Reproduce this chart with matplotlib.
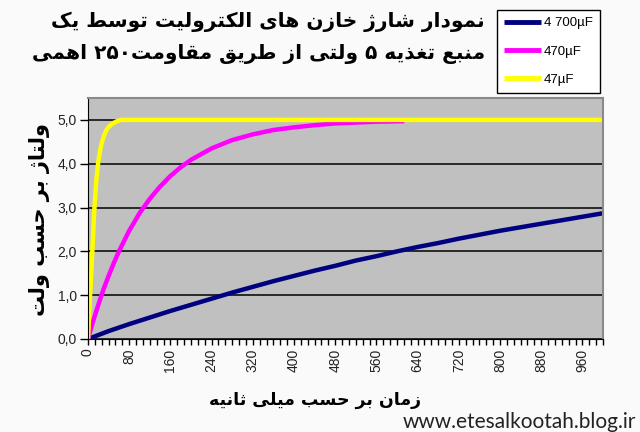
#!/usr/bin/env python3
"""Capacitor charge curves (47 / 470 / 4700 uF through 250 ohm from 5 V)."""
import re

import matplotlib

matplotlib.use("Agg")
import matplotlib.pyplot as plt
import numpy as np
from matplotlib.ticker import FixedLocator, NullFormatter

TITLE_1 = "نمودار شارژ خازن های الکترولیت توسط یک"
TITLE_2 = "منبع تغذیه ۵ ولتی از طریق مقاومت۲۵۰ اهمی"
X_LABEL = "زمان بر حسب میلی ثانیه"
Y_LABEL = "ولتاژ بر حسب ولت"
WATERMARK = "www.etesalkootah.blog.ir"

labels = ["4 700µF", "470µF", "47µF"]
colors = ["#000080", "#FF00FF", "#FFFF00"]

# time (ms) / voltage (V)
t_4700 = [0, 40, 80, 120, 160, 200, 240, 280, 320, 360, 400, 440, 480, 520,
          560, 600, 640, 680, 720, 760, 800, 840, 880, 920, 960, 1000]
v_4700 = [0, 0.18, 0.34, 0.49, 0.64, 0.78, 0.92, 1.06, 1.19, 1.32, 1.44, 1.56,
          1.67, 1.79, 1.89, 2.0, 2.1, 2.19, 2.29, 2.38, 2.47, 2.55, 2.63, 2.71,
          2.79, 2.87]

t_470 = [0, 10, 20, 30, 40, 50, 60, 80, 100, 120, 140, 160, 180, 200, 240,
         280, 320, 360, 400, 440, 480, 520, 560, 610]
v_470 = [0, 0.41, 0.78, 1.13, 1.44, 1.73, 2.0, 2.47, 2.87, 3.2, 3.48, 3.72,
         3.92, 4.09, 4.35, 4.54, 4.67, 4.77, 4.83, 4.88, 4.92, 4.94, 4.96, 4.97]

t_47 = [0, 4, 8, 12, 16, 20, 24, 28, 32, 36, 40, 48, 56, 64, 1000]
v_47 = [0, 1.0, 1.9, 2.9, 3.6, 4.05, 4.33, 4.53, 4.67, 4.77, 4.84, 4.92, 4.97,
        5.0, 5.0]

x_major = list(range(0, 961, 80))
y_major = [0, 1, 2, 3, 4, 5]
y_ticklabels = ["0,0", "1,0", "2,0", "3,0", "4,0", "5,0"]

# --- minimal Persian shaping (matplotlib 3.10 has no complex text layout) ---
# char -> (isolated, final, initial, medial); 2-tuple = joins on the right only
FORMS = {
    "ا": (0xFE8D, 0xFE8E), "د": (0xFEA9, 0xFEAA), "ذ": (0xFEAB, 0xFEAC),
    "ر": (0xFEAD, 0xFEAE), "ز": (0xFEAF, 0xFEB0), "ژ": (0xFB8A, 0xFB8B),
    "و": (0xFEED, 0xFEEE),
    "ب": (0xFE8F, 0xFE90, 0xFE91, 0xFE92), "ت": (0xFE95, 0xFE96, 0xFE97, 0xFE98),
    "ث": (0xFE99, 0xFE9A, 0xFE9B, 0xFE9C), "ح": (0xFEA1, 0xFEA2, 0xFEA3, 0xFEA4),
    "خ": (0xFEA5, 0xFEA6, 0xFEA7, 0xFEA8), "س": (0xFEB1, 0xFEB2, 0xFEB3, 0xFEB4),
    "ش": (0xFEB5, 0xFEB6, 0xFEB7, 0xFEB8), "ط": (0xFEC1, 0xFEC2, 0xFEC3, 0xFEC4),
    "ع": (0xFEC9, 0xFECA, 0xFECB, 0xFECC), "غ": (0xFECD, 0xFECE, 0xFECF, 0xFED0),
    "ق": (0xFED5, 0xFED6, 0xFED7, 0xFED8), "ل": (0xFEDD, 0xFEDE, 0xFEDF, 0xFEE0),
    "م": (0xFEE1, 0xFEE2, 0xFEE3, 0xFEE4), "ن": (0xFEE5, 0xFEE6, 0xFEE7, 0xFEE8),
    "ه": (0xFEE9, 0xFEEA, 0xFEEB, 0xFEEC), "ی": (0xFBFC, 0xFBFD, 0xFBFE, 0xFBFF),
    "ک": (0xFB8E, 0xFB8F, 0xFB90, 0xFB91),
}


def fa(text):
    out = []
    n = len(text)
    for i, ch in enumerate(text):
        f = FORMS.get(ch)
        if f is None:
            out.append(ch)
            continue
        prev = text[i - 1] if i > 0 else ""
        nxt = text[i + 1] if i + 1 < n else ""
        join_prev = prev in FORMS and len(FORMS[prev]) == 4
        join_next = len(f) == 4 and nxt in FORMS
        if join_prev and join_next:
            cp = f[3]
        elif join_prev:
            cp = f[1]
        elif join_next:
            cp = f[2]
        else:
            cp = f[0]
        out.append(chr(cp))
    shaped = "".join(out)
    runs = re.findall(r"[0-9\u06F0-\u06F9]+|[^0-9\u06F0-\u06F9]+", shaped)
    return "".join(r if r[0].isdigit() else r[::-1] for r in reversed(runs))


fig = plt.figure(figsize=(6.4, 4.32), dpi=100, facecolor="#fafafa")
ax = fig.add_axes([88 / 640, 1 - 339 / 432, 515 / 640, 241 / 432])
ax.set_facecolor("#C0C0C0")

series = [(t_4700, v_4700), (t_470, v_470), (t_47, v_47)]
for (t, v), lab, col in zip(series, labels, colors):
    ax.plot(t, v, color=col, linewidth=3.2, label=lab, solid_joinstyle="round")

ax.set_xlim(0, 1000)
ax.set_ylim(0, 5.5)
ax.set_yticks(y_major)
ax.set_yticklabels(y_ticklabels)
ax.set_xticks(x_major)
ax.set_xticklabels([str(v) for v in x_major], rotation=90)
ax.xaxis.set_minor_locator(FixedLocator(np.arange(0, 1000.1, 40 / 3)))
ax.xaxis.set_minor_formatter(NullFormatter())
ax.tick_params(axis="x", which="both", direction="out", length=4, width=1,
               color="black", labelsize=10, labelcolor="#222222", pad=3)
ax.tick_params(axis="y", which="major", direction="out", length=6, width=1,
               color="black", labelsize=10, labelcolor="#222222", pad=2)
for lbl in ax.get_xticklabels() + ax.get_yticklabels():
    lbl.set_fontfamily("Liberation Sans")

ax.yaxis.grid(True, color="black", linewidth=1.1)
ax.set_axisbelow(True)
ax.spines["left"].set_color("black")
ax.spines["bottom"].set_color("black")
for s in ("top", "right"):
    ax.spines[s].set_color("#8a8a8a")
    ax.spines[s].set_linewidth(1.5)

leg = fig.legend(loc="upper left", bbox_to_anchor=(497 / 640, 1 - 10 / 432),
                 prop={"family": "Liberation Sans", "size": 9.5},
                 frameon=True, fancybox=False, edgecolor="black",
                 facecolor="white", framealpha=1, handlelength=2.8,
                 handletextpad=0.2, labelspacing=1.2, borderpad=0.55,
                 borderaxespad=0)
leg.get_frame().set_linewidth(1.0)
for h in leg.get_lines():
    h.set_linewidth(3.5)
    h.set_solid_capstyle("butt")

persian = ["DejaVu Sans"]
fig.text(485 / 640, 1 - 22 / 432, fa(TITLE_1), ha="right", va="center",
         fontsize=14.5, fontweight="bold", family=persian)
fig.text(485 / 640, 1 - 54 / 432, fa(TITLE_2), ha="right", va="center",
         fontsize=14.5, fontweight="bold", family=persian)
fig.text(315 / 640, 1 - 400 / 432, fa(X_LABEL), ha="center", va="center",
         fontsize=12.5, fontweight="bold", family=persian)
fig.text(40 / 640, 1 - 220 / 432, fa(Y_LABEL), ha="center", va="center",
         rotation=90, fontsize=15, fontweight="bold", family=persian)
fig.text(636 / 640, 1 - 422 / 432, WATERMARK, ha="right", va="center",
         fontsize=15, family="Lato", color="#222222")

fig.savefig("out.png", dpi=100, facecolor=fig.get_facecolor())
